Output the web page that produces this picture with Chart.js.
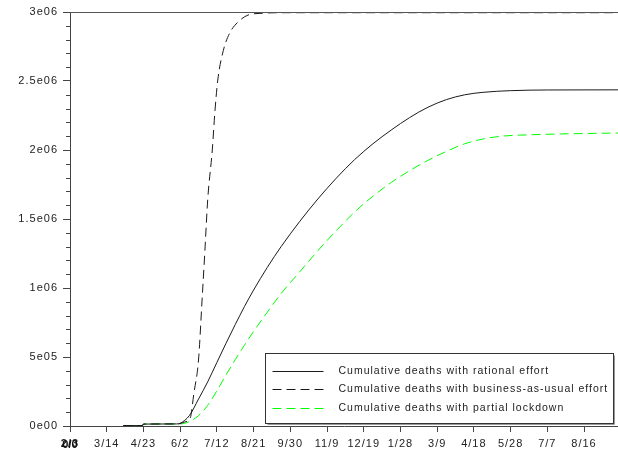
<!DOCTYPE html>
<html>
<head>
<meta charset="utf-8">
<script src="https://cdn.jsdelivr.net/npm/chart.js@4.4.1/dist/chart.umd.min.js"></script>
<style>
  html, body { margin: 0; padding: 0; background: #fff; }
  canvas { display: block; }
</style>
</head>
<body>
<canvas id="deaths" width="618" height="455"></canvas>
<script>
// x axis is in days counted from 2/3
const dayTicks = [0, 40, 80, 120, 160, 200, 240, 280, 320, 360, 400, 440, 480, 520, 560];
const dayLabels = ['2/3', '3/14', '4/23', '6/2', '7/12', '8/21', '9/30', '11/9', '12/19', '1/28', '3/9', '4/18', '5/28', '7/7', '8/16'];
const deathTicks = [0, 5e5, 1e6, 1.5e6, 2e6, 2.5e6, 3e6];
const deathLabels = ['0e00', '5e05', '1e06', '1.5e06', '2e06', '2.5e06', '3e06'];

const rationalDays = [58, 79, 80, 116, 120, 130, 140, 150, 160, 170, 180, 190, 200, 215, 230, 250, 270, 290, 310, 330, 350, 370, 390, 410, 430, 450, 480, 520, 597];
const rationalDeaths = [3e3, 3e3, 1.4e4, 1.5e4, 2.0e4, 7.5e4, 1.95e5, 3.2e5, 4.6e5, 6.0e5, 7.35e5, 8.65e5, 9.85e5, 1.15e6, 1.3e6, 1.48e6, 1.645e6, 1.795e6, 1.93e6, 2.045e6, 2.145e6, 2.235e6, 2.31e6, 2.365e6, 2.4e6, 2.418e6, 2.43e6, 2.435e6, 2.436e6];

const usualDays = [58, 79, 80, 118, 125, 131, 135, 140, 144, 147, 150, 155, 158, 161, 167, 174, 183, 194, 207, 230, 597];
const usualDeaths = [3e3, 3e3, 1.4e4, 1.5e4, 2.9e4, 5.8e4, 2.39e5, 4.78e5, 9.28e5, 1.275e6, 1.638e6, 2.0e6, 2.29e6, 2.507e6, 2.72e6, 2.848e6, 2.927e6, 2.978e6, 2.99e6, 2.995e6, 2.995e6];

const lockdownDays = [60, 79, 80, 116, 120, 130, 140, 150, 160, 170, 180, 190, 200, 215, 230, 250, 270, 290, 310, 330, 350, 370, 390, 410, 430, 450, 470, 500, 540, 597];
const lockdownDeaths = [3e3, 3e3, 1.4e4, 1.5e4, 1.5e4, 3.2e4, 7.5e4, 1.5e5, 2.55e5, 3.7e5, 4.8e5, 5.85e5, 6.85e5, 8.25e5, 9.6e5, 1.115e6, 1.27e6, 1.415e6, 1.55e6, 1.665e6, 1.765e6, 1.85e6, 1.925e6, 1.99e6, 2.045e6, 2.08e6, 2.1e6, 2.11e6, 2.117e6, 2.123e6];

const toPoints = (days, vals) => days.map((d, i) => ({ x: d, y: vals[i] }));

const FONT = "'Liberation Sans', Arial, sans-serif";

// top frame line, minor ticks on the y axis and the boxed legend
const framePlugin = {
  id: 'frame',
  beforeDraw(chart) {
    chart.ctx.letterSpacing = '1px';
  },
  afterDraw(chart) {
    const { ctx, chartArea, scales } = chart;
    ctx.save();
    ctx.letterSpacing = '0px';

    ctx.strokeStyle = '#555';
    ctx.lineWidth = 1;
    ctx.beginPath();
    ctx.moveTo(chartArea.left, Math.round(chartArea.top) + 0.5);
    ctx.lineTo(chartArea.right, Math.round(chartArea.top) + 0.5);
    ctx.stroke();

    // minor ticks every 1e5
    const y = scales.y;
    ctx.strokeStyle = '#444';
    ctx.beginPath();
    for (let v = 1e5; v < 3e6; v += 1e5) {
      if (Math.round(v / 1e5) % 5 === 0) continue;
      const py = Math.round(y.getPixelForValue(v)) + 0.5;
      ctx.moveTo(chartArea.left - 4, py);
      ctx.lineTo(chartArea.left, py);
    }
    ctx.stroke();

    // overlapping label on the first date tick
    const x = scales.x;
    ctx.font = 'bold 11px ' + FONT;
    ctx.fillStyle = '#111';
    ctx.textAlign = 'center';
    ctx.textBaseline = 'middle';
    ctx.fillText('0/0', x.getPixelForValue(dayTicks[0]), 445);

    // legend
    const bw = 348, bh = 70;
    const bx = Math.round(chartArea.right - 5 - bw) + 0.5;
    const by = Math.round(chartArea.bottom - 3 - bh) + 0.5;
    ctx.fillStyle = '#fff';
    ctx.fillRect(bx, by, bw, bh);
    ctx.strokeStyle = '#999';
    ctx.beginPath();
    ctx.moveTo(bx + bw + 1, by + 2);
    ctx.lineTo(bx + bw + 1, by + bh + 1);
    ctx.lineTo(bx + 2, by + bh + 1);
    ctx.stroke();
    ctx.strokeStyle = '#333';
    ctx.strokeRect(bx, by, bw, bh);

    ctx.font = '10.5px ' + FONT;
    ctx.letterSpacing = '1px';
    ctx.textAlign = 'left';
    const rows = [17, 35, 54];
    chart.data.datasets.forEach((ds, i) => {
      const ry = Math.round(by + rows[i]) + 0.5;
      ctx.strokeStyle = ds.borderColor;
      ctx.lineWidth = 1;
      ctx.setLineDash(ds.borderDash || []);
      ctx.beginPath();
      ctx.moveTo(bx + 7, ry);
      ctx.lineTo(bx + 58, ry);
      ctx.stroke();
      ctx.setLineDash([]);
      ctx.fillStyle = '#222';
      ctx.fillText(ds.label, bx + 73, ry);
    });
    ctx.restore();
  }
};

const common = {
  borderWidth: 1,
  pointRadius: 0,
  fill: false,
  cubicInterpolationMode: 'monotone'
};

new Chart(document.getElementById('deaths'), {
  type: 'line',
  data: {
    datasets: [
      { ...common, label: 'Cumulative deaths with rational effort', data: toPoints(rationalDays, rationalDeaths), borderColor: '#1a1a1a' },
      { ...common, label: 'Cumulative deaths with business-as-usual effort', data: toPoints(usualDays, usualDeaths), borderColor: '#1a1a1a', borderDash: [9, 5] },
      { ...common, label: 'Cumulative deaths with partial lockdown', data: toPoints(lockdownDays, lockdownDeaths), borderColor: '#00ff00', borderDash: [9, 5] }
    ]
  },
  options: {
    responsive: false,
    animation: false,
    devicePixelRatio: 1,
    layout: { padding: { top: 12, right: 0, left: 0, bottom: 0 } },
    plugins: { legend: { display: false }, tooltip: { enabled: false } },
    scales: {
      x: {
        type: 'linear',
        min: 0,
        max: 597,
        afterBuildTicks: s => { s.ticks = dayTicks.map(v => ({ value: v })); },
        afterFit: s => { s.height = 29; },
        ticks: {
          autoSkip: false,
          maxRotation: 0,
          padding: 5,
          color: '#222',
          font: c => ({ family: FONT, size: 11, weight: c.index === 0 ? 'bold' : 'normal' }),
          callback: (v, i) => dayLabels[i]
        },
        grid: { drawOnChartArea: false, tickLength: 6, tickColor: '#444' },
        border: { color: '#444', width: 1 }
      },
      y: {
        min: 0,
        max: 3e6,
        afterBuildTicks: s => { s.ticks = deathTicks.map(v => ({ value: v })); },
        afterFit: s => { s.width = 70; },
        ticks: {
          padding: 5,
          color: '#222',
          font: { family: FONT, size: 11 },
          callback: (v, i) => deathLabels[i]
        },
        grid: { drawOnChartArea: false, tickLength: 7, tickColor: '#444' },
        border: { color: '#444', width: 1 }
      }
    }
  },
  plugins: [framePlugin]
});
</script>
</body>
</html>
